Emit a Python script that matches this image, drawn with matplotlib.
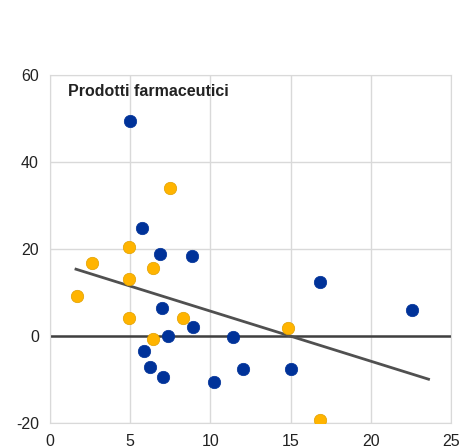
import matplotlib

matplotlib.use('Agg')
import matplotlib.pyplot as plt

plt.rcParams['font.family'] = ['Liberation Sans', 'DejaVu Sans']
plt.rcParams['axes.unicode_minus'] = False

# punti blu
blue_x = [4.99, 5.76, 6.86, 8.85, 16.83, 22.55, 7.0, 8.92, 7.33, 11.39, 5.86, 6.23, 7.07, 10.24, 12.05, 15.0]
blue_y = [49.4, 24.7, 18.9, 18.3, 12.4, 5.9, 6.4, 2.1, 0.0, -0.3, -3.5, -7.3, -9.4, -10.6, -7.7, -7.7]

# punti gialli
orange_x = [7.5, 4.93, 2.62, 6.42, 4.93, 1.66, 4.93, 8.27, 6.44, 14.82, 16.83]
orange_y = [33.9, 20.3, 16.8, 15.6, 13.0, 9.1, 4.1, 4.1, -0.7, 1.8, -19.4]

# retta di regressione
trend_x = [1.62, 23.6]
trend_y = [15.3, -10.0]

fig = plt.figure(figsize=(4.6, 4.48), dpi=100)
ax = fig.add_axes([0.1087, 0.0565, 0.8717, 0.7765])

ax.axhline(0, color='#404040', lw=1.8, zorder=2)
ax.plot(trend_x, trend_y, color='#505050', lw=2, zorder=3)
ax.scatter(blue_x, blue_y, s=80, color='#003299', edgecolors='#003299', linewidths=0.5, zorder=4)
ax.scatter(orange_x, orange_y, s=80, color='#FFB400', edgecolors='#E0A000', linewidths=0.5, zorder=4)

ax.set_xlim(0, 25)
ax.set_ylim(-20, 60)
ax.set_xticks([0, 5, 10, 15, 20, 25])
ax.set_yticks([-20, 0, 20, 40, 60])
ax.grid(True, color='#d9d9d9', lw=1)
ax.set_axisbelow(True)
for s in ax.spines.values():
    s.set_color('#d9d9d9')
ax.tick_params(length=0, labelsize=11.5, colors='#222222', pad=8)

ax.text(0.045, 0.953, 'Prodotti farmaceutici', transform=ax.transAxes,
        fontsize=11.5, fontweight='bold', color='#222222', va='center', ha='left')

fig.savefig('out.png', dpi=100)
